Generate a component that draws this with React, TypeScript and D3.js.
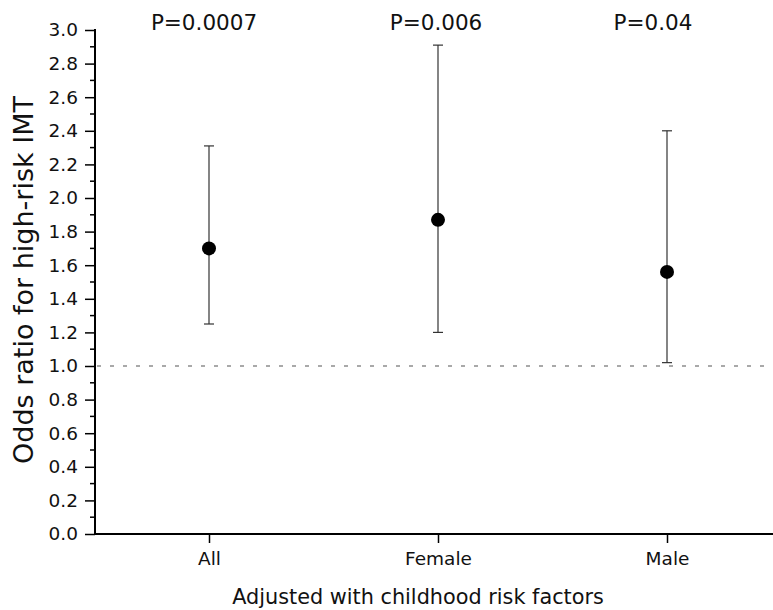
import { useEffect, useRef } from "react";
import * as d3 from "d3";

// groups and their odds ratios with 95% CI
const groups = ["All", "Female", "Male"];
const oddsRatio = [1.7, 1.87, 1.56];
const ciLow = [1.25, 1.2, 1.02];
const ciHigh = [2.31, 2.91, 2.4];
const pLabels = ["P=0.0007", "P=0.006", "P=0.04"];
const yTicks = [0, 0.2, 0.4, 0.6, 0.8, 1.0, 1.2, 1.4, 1.6, 1.8, 2.0, 2.2, 2.4, 2.6, 2.8, 3.0];

const W = 773;
const H = 610;
const FONT = "'DejaVu Sans', Verdana, sans-serif";
const pShift = [-5, -2, -14]; // small nudges of the P labels, as in the original

export default function App() {
    const svgRef = useRef<SVGSVGElement>(null);

    useEffect(() => {
        const svg = d3.select(svgRef.current);
        svg.selectAll("*").remove();

        const left = 95;
        const top = 30;
        const bottom = 534;

        const x = d3.scalePoint().domain(groups).range([209, 667]);
        const y = d3.scaleLinear().domain([0, 3]).range([bottom, top]);

        // y axis: major ticks with labels, minor ticks in between
        const yAxis = svg.append("g").attr("transform", `translate(${left},0)`);
        yAxis.call(
            d3.axisLeft(y).tickValues(yTicks).tickSize(10).tickPadding(7).tickFormat(d3.format(".1f"))
        );
        yAxis.select(".domain").attr("stroke-width", 2).attr("d", `M0,${top - 1}V${bottom}`);
        yAxis.selectAll(".tick line").attr("stroke-width", 1.5);
        yAxis.selectAll("text").attr("font-family", FONT).attr("font-size", 18.5).attr("fill", "#111");
        const minor = d3.range(0.1, 3, 0.2);
        yAxis.selectAll("line.minor")
            .data(minor)
            .enter()
            .append("line")
            .attr("class", "minor")
            .attr("x1", -5)
            .attr("x2", 0)
            .attr("y1", d => y(d))
            .attr("y2", d => y(d))
            .attr("stroke", "#000")
            .attr("stroke-width", 1.5);

        // x axis
        const xAxis = svg.append("g").attr("transform", `translate(0,${bottom})`);
        xAxis.call(d3.axisBottom(x).tickSize(9).tickPadding(9).tickSizeOuter(0));
        xAxis.select(".domain").attr("stroke-width", 2).attr("d", `M${left - 1},0H${W}`);
        xAxis.selectAll(".tick line").attr("stroke-width", 1.5);
        xAxis.selectAll("text").attr("font-family", FONT).attr("font-size", 18.5).attr("fill", "#111");

        // reference line at OR = 1
        svg.append("line")
            .attr("x1", left + 2)
            .attr("x2", W)
            .attr("y1", y(1))
            .attr("y2", y(1))
            .attr("stroke", "#555")
            .attr("stroke-width", 1.2)
            .attr("stroke-dasharray", "4,9");

        // error bars
        const g = svg.append("g");
        groups.forEach((grp, i) => {
            const cx = x(grp) as number;
            g.append("line")
                .attr("x1", cx).attr("x2", cx)
                .attr("y1", y(ciLow[i])).attr("y2", y(ciHigh[i]))
                .attr("stroke", "#333").attr("stroke-width", 1.2);
            [ciLow[i], ciHigh[i]].forEach(v => {
                g.append("line")
                    .attr("x1", cx - 5).attr("x2", cx + 5)
                    .attr("y1", y(v)).attr("y2", y(v))
                    .attr("stroke", "#333").attr("stroke-width", 1.2);
            });
            g.append("circle")
                .attr("cx", cx)
                .attr("cy", y(oddsRatio[i]))
                .attr("r", 7)
                .attr("fill", "#000");
            g.append("text")
                .attr("x", cx + pShift[i])
                .attr("y", 30)
                .attr("text-anchor", "middle")
                .attr("font-family", FONT)
                .attr("font-size", 21.5)
                .attr("fill", "#111")
                .text(pLabels[i]);
        });

        // axis titles
        svg.append("text")
            .attr("x", 418)
            .attr("y", 604)
            .attr("text-anchor", "middle")
            .attr("font-family", FONT)
            .attr("font-size", 20.8)
            .attr("fill", "#111")
            .text("Adjusted with childhood risk factors");

        svg.append("text")
            .attr("transform", `translate(33,280) rotate(-90)`)
            .attr("text-anchor", "middle")
            .attr("font-family", FONT)
            .attr("font-size", 27)
            .attr("fill", "#111")
            .text("Odds ratio for high-risk IMT");
    }, []);

    return (
        <svg
            ref={svgRef}
            width={W}
            height={H}
            style={{ position: "absolute", left: 0, top: 0, background: "#fff", display: "block" }}
        />
    );
}
